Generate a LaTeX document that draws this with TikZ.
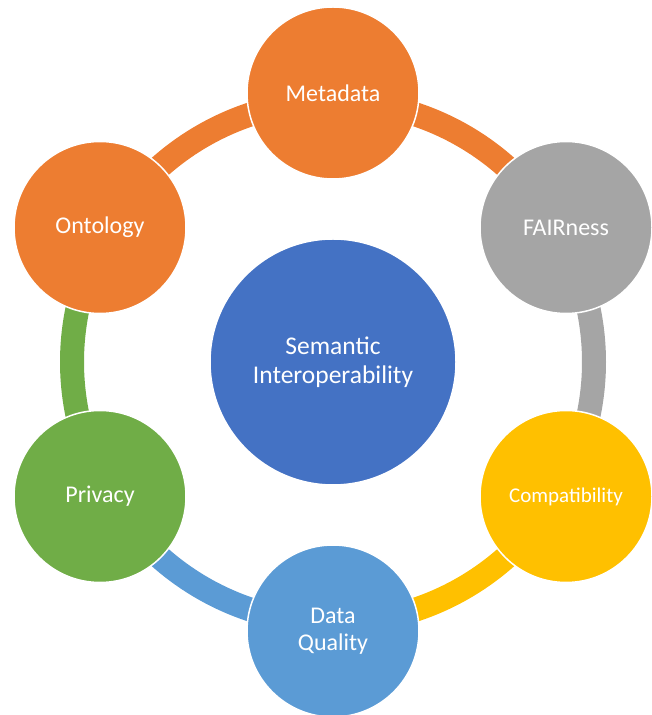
\documentclass[tikz,border=0pt]{standalone}
\usepackage{fontspec}
\setmainfont{Carlito}
\usepackage{xcolor}
\usetikzlibrary{backgrounds}
\definecolor{metaorange}{HTML}{ED7D31}
\definecolor{fairgray}{HTML}{A5A5A5}
\definecolor{compyellow}{HTML}{FFC000}
\definecolor{qualblue}{HTML}{5B9BD5}
\definecolor{privgreen}{HTML}{70AD47}
\definecolor{hubblue}{HTML}{4472C4}

\begin{document}
\begin{tikzpicture}[
    x=1pt, y=1pt,
    disc/.style={circle, draw=white, line width=1.5pt, minimum size=172pt,
                 inner sep=0pt, align=center, text=white,
                 font=\fontsize{24}{27}\selectfont},
    hub/.style={disc, minimum size=246pt, fill=hubblue,
                font=\fontsize{25.5}{29}\selectfont},
    band/.style={line width=24pt},
  ]
  \useasboundingbox (0,0) rectangle (652,715);
  \coordinate (c) at (333,353);
  % ---- centre ----
  \node[hub] (sem) at (c) {Semantic\\Interoperability};
  % ---- ring of topics ----
  \node[disc, fill=metaorange] (meta) at (333,622)   {Metadata};
  \node[disc, fill=fairgray]   (fair) at (566,487.5) {FAIRness};
  \node[disc, fill=compyellow, font=\fontsize{21}{24}\selectfont]
                               (comp) at (566,218.5) {Compatibility};
  \node[disc, fill=qualblue]   (qual) at (333,84)    {Data\\Quality};
  \node[disc, fill=privgreen]  (priv) at (100,218.5) {Privacy};
  \node[disc, fill=metaorange] (onto) at (100,487.5) {Ontology};
  % ---- ring arcs ----
  \begin{scope}[on background layer]
    \draw[band, metaorange] ([shift={(90:261)}]c)   arc[start angle=90,   end angle=30,   radius=261];
    \draw[band, fairgray]   ([shift={(30:261)}]c)   arc[start angle=30,   end angle=-30,  radius=261];
    \draw[band, compyellow] ([shift={(-30:261)}]c)  arc[start angle=-30,  end angle=-90,  radius=261];
    \draw[band, qualblue]   ([shift={(-90:261)}]c)  arc[start angle=-90,  end angle=-150, radius=261];
    \draw[band, privgreen]  ([shift={(-150:261)}]c) arc[start angle=-150, end angle=-210, radius=261];
    \draw[band, metaorange] ([shift={(150:261)}]c)  arc[start angle=150,  end angle=90,   radius=261];
  \end{scope}
\end{tikzpicture}
\end{document}
